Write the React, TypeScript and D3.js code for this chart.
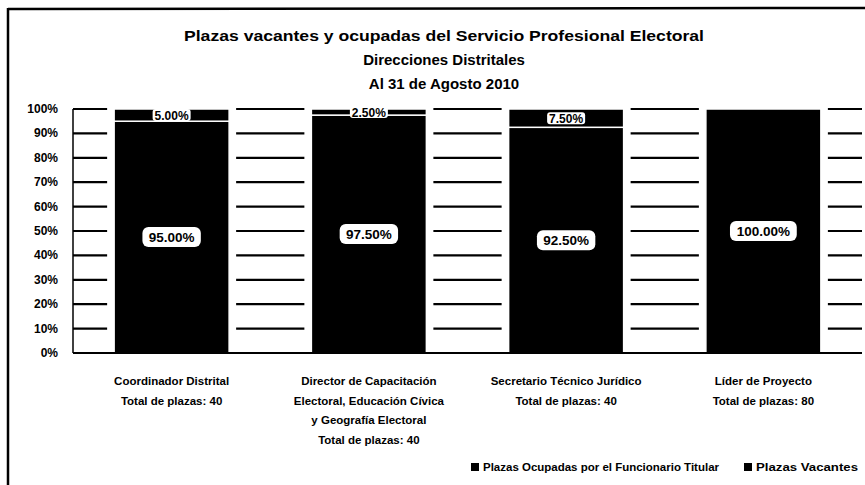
import React from "react";
import * as d3 from "d3";

const categories: string[][] = [
  ["Coordinador Distrital", "Total de plazas: 40"],
  ["Director de Capacitación", "Electoral, Educación Cívica", "y Geografía Electoral", "Total de plazas: 40"],
  ["Secretario Técnico Jurídico", "Total de plazas: 40"],
  ["Líder de Proyecto", "Total de plazas: 80"],
];
const ocupadas: number[] = [95.0, 97.5, 92.5, 100.0];
const vacantes: number[] = [5.0, 2.5, 7.5, 0.0];
const yTicks: number[] = [0, 10, 20, 30, 40, 50, 60, 70, 80, 90, 100];
const titleLines: string[] = [
  "Plazas vacantes y ocupadas del Servicio Profesional Electoral",
  "Direcciones Distritales",
  "Al 31 de Agosto 2010",
];
const legendItems: string[] = ["Plazas Ocupadas  por el Funcionario Titular", "Plazas Vacantes"];

const W = 865;
const H = 485;
const FONT = "'Liberation Sans', Arial, sans-serif";

export default function App() {
  const plotLeft = 73;
  const plotRight = 862;
  const plotTop = 109;
  const plotBottom = 353;

  const ids = categories.map((_, i) => String(i));
  const x = d3
    .scaleBand<string>()
    .domain(ids)
    .range([plotLeft, plotRight])
    .paddingInner(0.417)
    .paddingOuter(0.2085);
  const y = d3.scaleLinear().domain([0, 100]).range([plotBottom, plotTop]);
  const bw = x.bandwidth();
  const fmt = (v: number) => v.toFixed(2) + "%";

  return (
    <svg
      width={W}
      height={H}
      style={{ position: "absolute", left: 0, top: 0, background: "#fff" }}
      fontFamily={FONT}
    >
      <rect x={0} y={0} width={W} height={H} fill="#fff" />
      {/* frame */}
      <line x1={8} y1={9} x2={W} y2={8} stroke="#000" strokeWidth={2.5} />
      <line x1={8} y1={8} x2={8} y2={H} stroke="#000" strokeWidth={2.5} />

      {/* title */}
      {titleLines.map((t, i) => (
        <text
          key={t}
          x={444}
          y={41 + i * 24}
          textAnchor="middle"
          fontSize={15}
          fontWeight="bold"
          fill="#000"
          textLength={i === 0 ? 520 : undefined}
          lengthAdjust="spacingAndGlyphs"
        >
          {t}
        </text>
      ))}

      {/* gridlines */}
      {yTicks.slice(1).map((t) => (
        <line
          key={t}
          x1={plotLeft}
          x2={plotRight}
          y1={y(t)}
          y2={y(t)}
          stroke="#000"
          strokeWidth={2.2}
        />
      ))}
      {/* white gaps around bars */}
      {ids.map((id) => (
        <rect
          key={id}
          x={(x(id) as number) - 7}
          y={plotTop - 3}
          width={bw + 14}
          height={plotBottom - plotTop + 2}
          fill="#fff"
        />
      ))}

      {/* y tick labels */}
      {yTicks.map((t) => (
        <text
          key={t}
          x={58}
          y={y(t) + 4}
          textAnchor="end"
          fontSize={12}
          fontWeight="bold"
          fill="#000"
        >
          {t + "%"}
        </text>
      ))}

      {/* bars */}
      {ids.map((id, i) => {
        const bx = x(id) as number;
        return (
          <g key={id}>
            <rect
              x={bx}
              y={y(ocupadas[i])}
              width={bw}
              height={y(0) - y(ocupadas[i])}
              fill="#000"
              stroke="#fff"
              strokeWidth={1.5}
            />
            {vacantes[i] > 0 && (
              <rect
                x={bx}
                y={y(ocupadas[i] + vacantes[i])}
                width={bw}
                height={y(ocupadas[i]) - y(ocupadas[i] + vacantes[i])}
                fill="#000"
                stroke="#fff"
                strokeWidth={1.5}
              />
            )}
          </g>
        );
      })}

      {/* axes */}
      <line x1={plotLeft} x2={plotRight} y1={plotBottom} y2={plotBottom} stroke="#000" strokeWidth={2} />
      <line x1={plotLeft} x2={plotLeft} y1={plotTop} y2={plotBottom} stroke="#000" strokeWidth={1.5} />

      {/* data labels */}
      {ids.map((id, i) => {
        const cx = (x(id) as number) + bw / 2;
        const cyO = y(ocupadas[i] / 2);
        const lo = fmt(ocupadas[i]);
        const wO = lo.length * 8.4 + 8;
        const cyV = y(ocupadas[i] + vacantes[i] / 2);
        const lv = fmt(vacantes[i]);
        const wV = lv.length * 7.2 + 2;
        return (
          <g key={id}>
            <rect x={cx - wO / 2} y={cyO - 10} width={wO} height={20} rx={6} fill="#fff" />
            <text x={cx} y={cyO + 5} textAnchor="middle" fontSize={13.5} fontWeight="bold" fill="#000">
              {lo}
            </text>
            {vacantes[i] > 0 && (
              <g>
                <rect x={cx - wV / 2} y={cyV - 6} width={wV} height={12} rx={3} fill="#fff" />
                <text x={cx} y={cyV + 4.5} textAnchor="middle" fontSize={12} fontWeight="bold" fill="#000">
                  {lv}
                </text>
              </g>
            )}
          </g>
        );
      })}

      {/* category labels */}
      {ids.map((id, i) => {
        const cx = (x(id) as number) + bw / 2;
        return (
          <text key={id} textAnchor="middle" fontSize={11.5} fontWeight="bold" fill="#000">
            {categories[i].map((line, j) => (
              <tspan key={j} x={cx} y={385 + j * 19.5}>
                {line}
              </tspan>
            ))}
          </text>
        );
      })}

      {/* legend */}
      <rect x={471} y={463} width={8} height={8} fill="#000" />
      <text
        x={483}
        y={471}
        fontSize={11}
        fontWeight="bold"
        fill="#000"
        textLength={236}
        lengthAdjust="spacingAndGlyphs"
      >
        {legendItems[0]}
      </text>
      <rect x={744} y={463} width={8} height={8} fill="#000" />
      <text
        x={756}
        y={471}
        fontSize={11}
        fontWeight="bold"
        fill="#000"
        textLength={102}
        lengthAdjust="spacingAndGlyphs"
      >
        {legendItems[1]}
      </text>
    </svg>
  );
}
